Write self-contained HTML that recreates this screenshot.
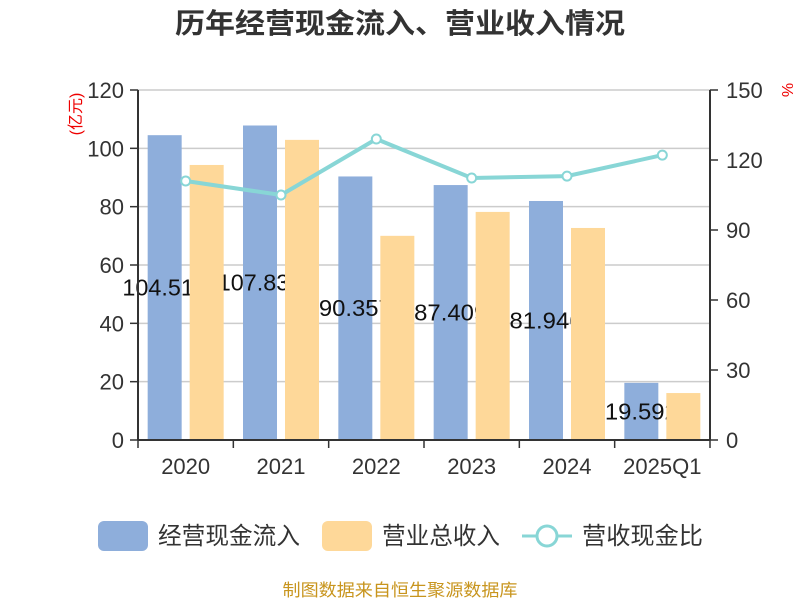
<!DOCTYPE html>
<html><head><meta charset="utf-8"><style>
body{margin:0;background:#fff;}
svg text{font-family:"Liberation Sans","Noto Sans CJK SC",sans-serif;}
</style></head><body>
<svg id="c" width="800" height="600" xmlns="http://www.w3.org/2000/svg">
<text x="400" y="33" text-anchor="middle" font-size="28" font-weight="bold" fill="#333" textLength="450" lengthAdjust="spacingAndGlyphs">历年经营现金流入、营业收入情况</text>
<text transform="translate(81,114) rotate(-90)" text-anchor="middle" font-size="16" fill="#e00">(亿元)</text>
<text transform="translate(782,90) rotate(90)" text-anchor="middle" font-size="16" fill="#e00">%</text>
<g id="grid"></g><g id="blue"></g><g id="labels"></g><g id="orange"></g><g id="axes"></g><g id="line"></g>
<g>
<rect x="98" y="521" width="50" height="30" rx="6" fill="#8eaedb"/>
<text x="158" y="544" font-size="24" fill="#333" textLength="142" lengthAdjust="spacingAndGlyphs">经营现金流入</text>
<rect x="322" y="521" width="50" height="30" rx="6" fill="#fed899"/>
<text x="382" y="544" font-size="24" fill="#333" textLength="118" lengthAdjust="spacingAndGlyphs">营业总收入</text>
<line x1="522" y1="536" x2="572" y2="536" stroke="#88d6d6" stroke-width="3"/>
<circle cx="547" cy="536" r="10" fill="#fff" stroke="#88d6d6" stroke-width="3"/>
<text x="582" y="544" font-size="24" fill="#333" textLength="121" lengthAdjust="spacingAndGlyphs">营收现金比</text>
</g>
<text x="400" y="596" text-anchor="middle" font-size="17" fill="#c8951e" textLength="235" lengthAdjust="spacingAndGlyphs">制图数据来自恒生聚源数据库</text>
</svg>
<script>
const categories=["2020","2021","2022","2023","2024","2025Q1"];
const cashInflow=[104.512,107.831,90.357,87.409,81.946,19.592];
const revenue=[94.3,102.9,70.0,78.2,72.7,16.1];
const ratio=[111,105,129,112.3,113.1,122.1];
const leftTicks=[0,20,40,60,80,100,120];
const rightTicks=[0,30,60,90,120,150];
const NS="http://www.w3.org/2000/svg";
const X0=138,X1=710,Y0=440,Y1=90;
const cw=(X1-X0)/categories.length;
const yL=v=>Y0-(v/120)*(Y0-Y1);
const yR=v=>Y0-(v/150)*(Y0-Y1);
const xc=i=>X0+cw*(i+0.5);
function mk(tag,attrs,parent){const e=document.createElementNS(NS,tag);for(const k in attrs)e.setAttribute(k,attrs[k]);document.getElementById(parent).appendChild(e);return e;}
leftTicks.forEach(t=>{
  const g=mk('line',{x1:X0,x2:X1,y1:yL(t),y2:yL(t),stroke:'#ccc','stroke-width':1.5},'grid');
  
  
  const tk=mk('line',{x1:X0-8,x2:X0,y1:yL(t),y2:yL(t),stroke:'#333','stroke-width':1.5},'axes');
  
  
  const tx=mk('text',{x:X0-14,y:yL(t)+8,'text-anchor':'end','font-size':22,fill:'#333'},'axes');
  tx.textContent=t;
  
  
});
rightTicks.forEach(t=>{
  const tk=mk('line',{x1:X1,x2:X1+8,y1:yR(t),y2:yR(t),stroke:'#333','stroke-width':1.5},'axes');
  
  
  const tx=mk('text',{x:X1+16,y:yR(t)+8,'font-size':22,fill:'#333'},'axes');
  tx.textContent=t;
  
  
});
const la=mk('line',{x1:X0,x2:X0,y1:Y1,y2:Y0,stroke:'#333','stroke-width':2},'axes');


const ra=mk('line',{x1:X1,x2:X1,y1:Y1,y2:Y0,stroke:'#333','stroke-width':2},'axes');


const xa=mk('line',{x1:X0,x2:X1,y1:Y0,y2:Y0,stroke:'#333','stroke-width':2},'axes');


for(let i=0;i<=categories.length;i++){
  const tk=mk('line',{x1:X0+cw*i,x2:X0+cw*i,y1:Y0,y2:Y0+8,stroke:'#333','stroke-width':1.5},'axes');
  
  
}
categories.forEach((c,i)=>{
  const tx=mk('text',{x:xc(i),y:Y0+34,'text-anchor':'middle','font-size':22,fill:'#333'},'axes');
  tx.textContent=c;
  
  
  const b=mk('rect',{x:xc(i)-38,y:yL(cashInflow[i]),width:34,height:Y0-yL(cashInflow[i]),fill:'#8eaedb'},'blue');
  
  
  const s=String(cashInflow[i]);
  const L=s.length*11.5+4;
  const l=mk('text',{x:xc(i)-21-L/2,y:(yL(cashInflow[i])+Y0)/2+8,'font-size':23,fill:'#111',textLength:L,lengthAdjust:'spacingAndGlyphs'},'labels');
  l.textContent=s;
  
  
  const o=mk('rect',{x:xc(i)+4,y:yL(revenue[i]),width:34,height:Y0-yL(revenue[i]),fill:'#fed899'},'orange');
  
  
});
const pl=mk('polyline',{points:ratio.map((v,i)=>xc(i)+','+yR(v)).join(' '),fill:'none',stroke:'#88d6d6','stroke-width':4},'line');


ratio.forEach((v,i)=>{
  const p=mk('circle',{cx:xc(i),cy:yR(v),r:4.5,fill:'#fff',stroke:'#88d6d6','stroke-width':2},'line');
  
  
});
</script>
</body></html>
